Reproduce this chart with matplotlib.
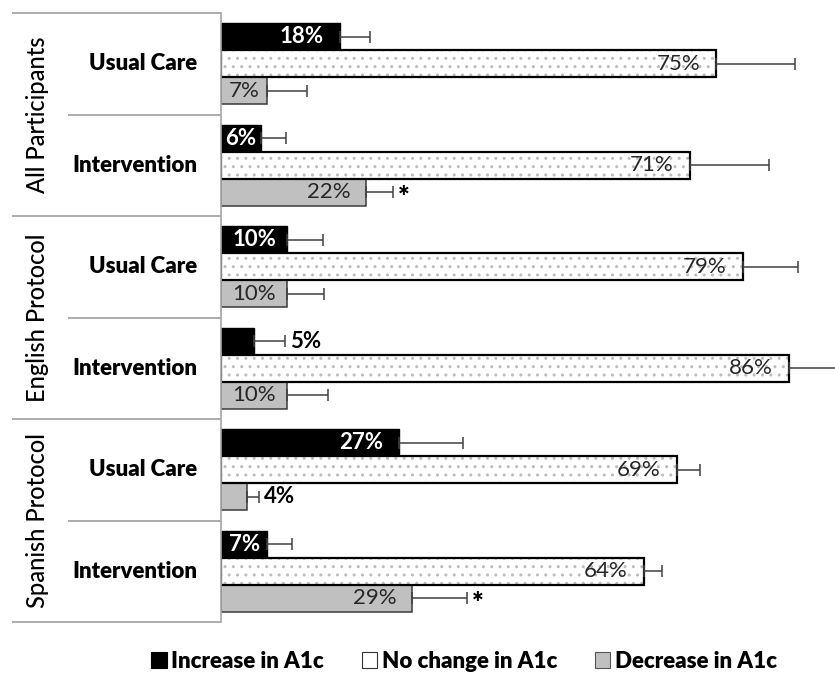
import matplotlib
matplotlib.use('Agg')
import matplotlib.pyplot as plt
from matplotlib.patches import Patch
from matplotlib.font_manager import FontProperties

# ---------------- data ----------------
groups = ['All Participants', 'English Protocol', 'Spanish Protocol']
arms = ['Usual Care', 'Intervention']
series = ['Increase in A1c', 'No change in A1c', 'Decrease in A1c']
increase = [18, 6, 10, 5, 27, 7]
no_change = [75, 71, 79, 86, 69, 64]
decrease = [7, 22, 10, 10, 4, 29]
increase_err = [4.6, 3.8, 5.4, 4.7, 9.7, 3.7]
no_change_err = [12, 12, 8.4, 9, 3.5, 2.8]
decrease_err = [6, 4, 5.6, 6.2, 1.7, 8.3]
decrease_sig = [False, True, False, False, False, True]

FONT = 'Lato'
plt.rcParams['font.family'] = [FONT, 'DejaVu Sans']
plt.rcParams['hatch.linewidth'] = 1.0

W, H, DPI = 835, 686, 100
fig = plt.figure(figsize=(W / DPI, H / DPI), dpi=DPI)

ax_left, ax_top, ax_bot = 221, 13, 622
ax = fig.add_axes([ax_left / W, 1 - ax_bot / H, (W - ax_left) / W, (ax_bot - ax_top) / H])
XMAX = 93
ax.set_xlim(0, XMAX)
n = len(increase)
ax.set_ylim(n, 0)
for s in ['top', 'right', 'bottom']:
    ax.spines[s].set_visible(False)
ax.spines['left'].set_color('#a6a6a6')
ax.spines['left'].set_linewidth(1.2)
ax.set_xticks([])
ax.set_yticks([])

bh = 0.265
centers = [i + 0.5 for i in range(n)]
y_inc = [c - bh for c in centers]
y_nc = centers
y_dec = [c + bh for c in centers]

ebkw = dict(fmt='none', ecolor='#404040', elinewidth=1.1, capsize=4.3, capthick=1.1, zorder=3)

# Increase bars
ax.barh(y_inc, increase, height=bh, color='black', edgecolor='black', linewidth=1, zorder=2)
ax.errorbar(increase, y_inc, xerr=[[0] * n, increase_err], **ebkw)
# No change bars (dotted)
ax.barh(y_nc, no_change, height=bh, color='white', edgecolor='#bdbdbd', linewidth=0, hatch='..', zorder=2)
ax.barh(y_nc, no_change, height=bh, fill=False, edgecolor='black', linewidth=1.6, zorder=2.5)
ax.errorbar(no_change, y_nc, xerr=[[0] * n, no_change_err], **ebkw)
# Decrease bars
ax.barh(y_dec, decrease, height=bh, color='#c0c0c0', edgecolor='#3a3a3a', linewidth=1.1, zorder=2)
ax.errorbar(decrease, y_dec, xerr=[[0] * n, decrease_err], **ebkw)

# ---------------- value labels ----------------
fig.canvas.draw()
renderer = fig.canvas.get_renderer()
pxu = (W - ax_left) / XMAX
px2pt = 72 / DPI
fp_bold = FontProperties(family=FONT, weight='bold', size=16)
fp_reg = FontProperties(family=FONT, size=16)


def label(v, err, y, inside_color, inside_bold):
    s = f'{v}%'
    if v < 5.5:
        ax.annotate(s, xy=(v + err, y), xytext=(5 * px2pt, 0), textcoords='offset points',
                    ha='left', va='center', fontproperties=fp_bold, color='black', zorder=4)
        return
    fp = fp_bold if inside_bold else fp_reg
    tw, _, _ = renderer.get_text_width_height_descent(s, fp, ismath=False)
    bw = v * pxu
    pad = 16 if bw - tw >= 32 else max(3, (bw - tw) / 2)
    ax.annotate(s, xy=(v, y), xytext=(-pad * px2pt, 0), textcoords='offset points',
                ha='right', va='center', fontproperties=fp, color=inside_color, zorder=4)


for i in range(n):
    label(increase[i], increase_err[i], y_inc[i], 'white', True)
    label(no_change[i], no_change_err[i], y_nc[i], '#262626', False)
    label(decrease[i], decrease_err[i], y_dec[i], '#262626', False)
    if decrease_sig[i]:
        ax.annotate('*', xy=(decrease[i] + decrease_err[i], y_dec[i]), xytext=(5 * px2pt, -4),
                    textcoords='offset points', ha='left', va='center',
                    fontsize=20, fontweight='heavy', color='black', zorder=4)

# ---------------- left table ----------------
tl = 12
tax = fig.add_axes([tl / W, 1 - ax_bot / H, (ax_left - tl) / W, (ax_bot - ax_top) / H])
tax.set_xlim(0, ax_left - tl)
tax.set_ylim(n, 0)
tax.axis('off')
lc = '#a6a6a6'
inner = 68 - tl
for k in range(n + 1):
    x0 = 0 if k % 2 == 0 else inner
    tax.plot([x0, ax_left - tl], [k, k], color=lc, lw=1.3, clip_on=False, solid_capstyle='butt')
for g, name in enumerate(groups):
    tax.text(38 - tl, 2 * g + 1, name, rotation=90, ha='center', va='center',
             fontsize=17, fontweight='medium', color='black')
for i in range(n):
    tax.text(197 - tl, centers[i], arms[i % 2], ha='right', va='center',
             fontsize=16, fontweight='heavy', color='black')

# ---------------- legend ----------------
handles = [Patch(facecolor='black', edgecolor='black', linewidth=0.8),
           Patch(facecolor='white', edgecolor='#333333', linewidth=0.8),
           Patch(facecolor='#c0c0c0', edgecolor='#555555', linewidth=0.8)]
fig.legend(handles, series, loc='center', bbox_to_anchor=(464 / W, 1 - 661 / H), ncol=3,
           frameon=False, handlelength=0.7, handleheight=0.7, handletextpad=0.2,
           columnspacing=1.7, prop=FontProperties(family=FONT, weight='heavy', size=16))

fig.savefig('out.png', dpi=DPI)
